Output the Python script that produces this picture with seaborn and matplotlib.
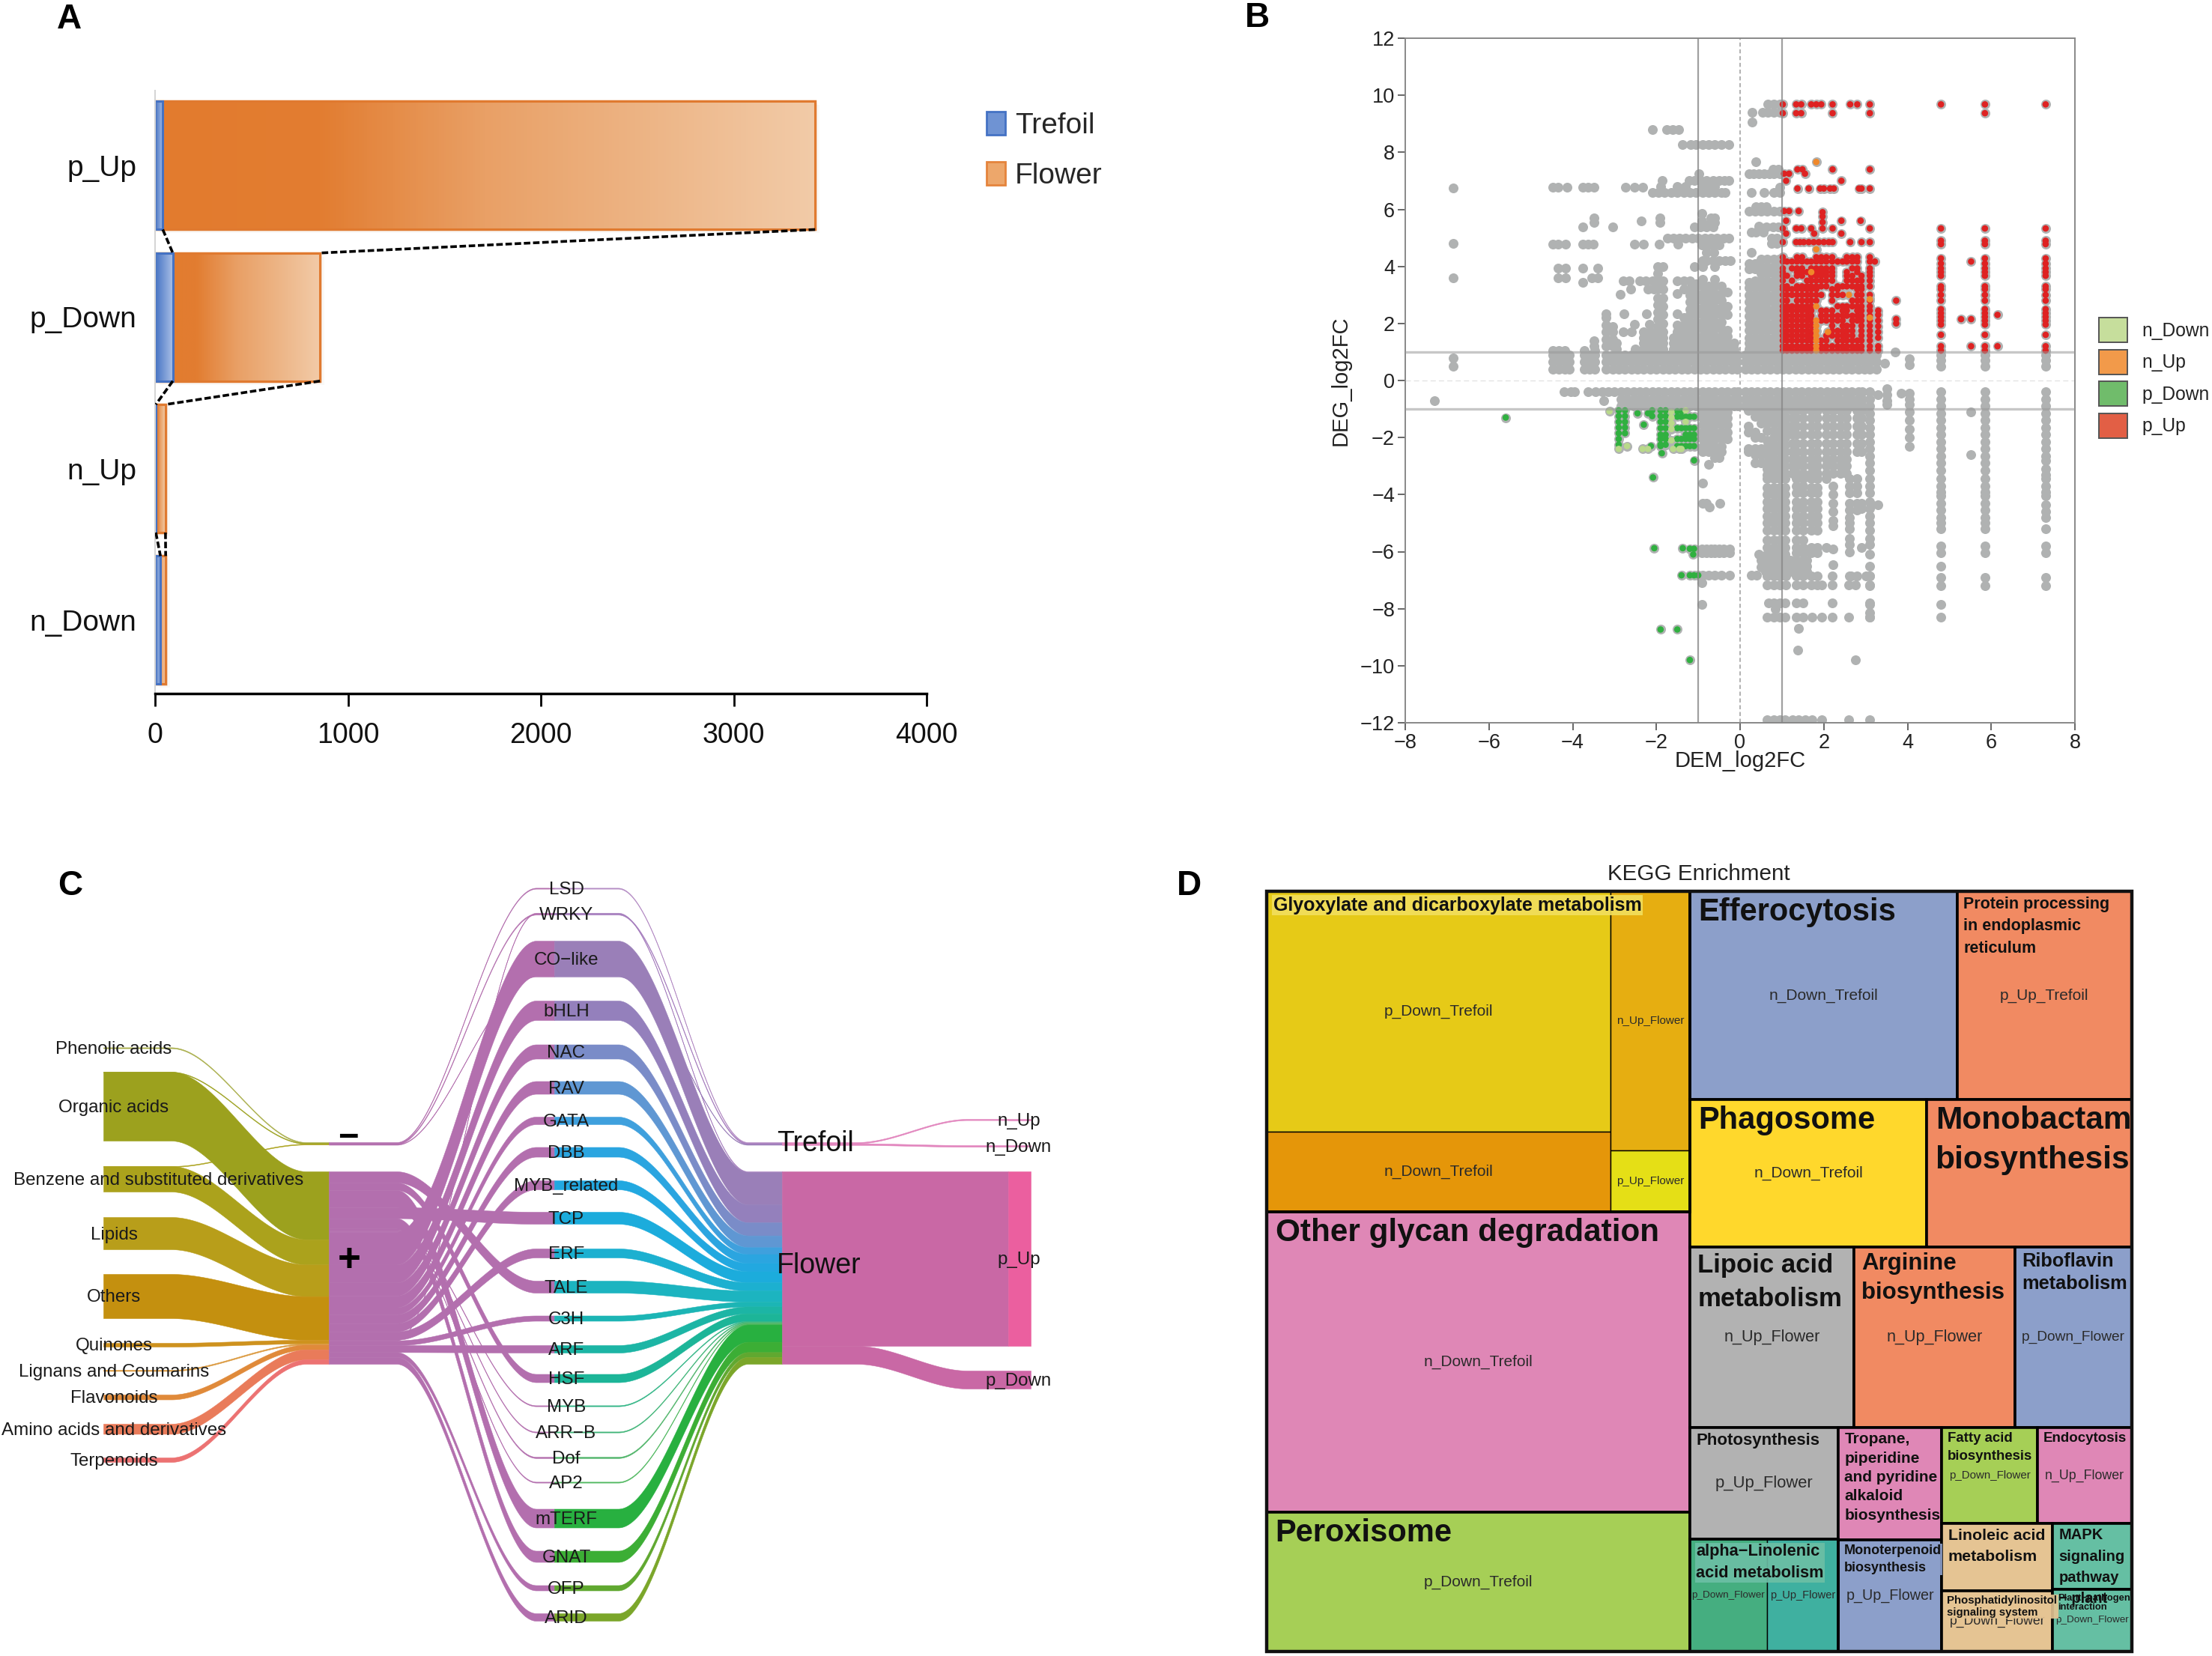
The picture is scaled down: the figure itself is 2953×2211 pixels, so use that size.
import numpy as np
import pandas as pd
import matplotlib
matplotlib.use("Agg")
import matplotlib.pyplot as plt
from matplotlib.colors import LinearSegmentedColormap
from matplotlib.patches import Patch, Rectangle
import seaborn as sns

sns.set_theme(style="ticks")
SANS = ["Liberation Sans", "DejaVu Sans"]
plt.rcParams["font.family"] = SANS
W, H = 2953, 2211

# ---------- Panel A ----------
a_categories = ["p_Up", "p_Down", "n_Up", "n_Down"]
a_trefoil = [40, 92, 4, 28]
a_flower = [3382, 763, 50, 27]

# ---------- Panel B : gray background points, as (x values, y values) tables ----------
B_UP = [.4, .65, .9]
B_DN = [-.4, -.65, -.9]
gray_tables = [
    ([-4.47, -4.33, -4.18, -4.08, -3.72, -3.6, -3.48, -3.2, -3.05, -2.9, -2.75, -2.6, -2.45, -2.3, -2.15, -2.0,
      -1.85, -1.7, -1.55, -1.4, -1.25, -1.1, -.95, -.8, -.65, -.5, -.35, -.2, -.07, .12, .27, .42, .57, .72, .87,
      1.02, 1.17, 1.32, 1.47, 1.62, 1.77, 1.92, 2.07, 2.22, 2.37, 2.52, 2.67, 2.82, 2.97, 3.1, 3.25], B_UP),
    ([-4.47, -4.33, -4.18, -3.72, -3.48], [1.05]),
    ([-7.3], [-.7]), ([-6.85], [6.75, 4.8, 3.6, .8, .5]),
    ([3.45], [.6]), ([3.7], [1.0]), ([4.05], [.75, .55]),
    ([4.8, 5.85, 7.3], [.5, .7, .9]),
    # upper left rows
    ([-4.47, -4.35, -4.14, -3.75, -3.63, -3.49, -2.74, -2.53, -2.32], [6.77]),
    ([-4.47, -4.35, -4.17, -3.75, -3.63, -3.5, -2.53, -2.3, -1.94, -1.49], [4.78]),
    ([-4.35, -4.17, -3.75, -3.4], [3.95]), ([-4.35, -4.17, -3.55, -3.4], [3.6]), ([-3.75], [3.45]),
    ([-3.49], [5.7, 5.55]), ([-3.75, -3.05], [5.37]), ([-2.36], [5.6]), ([-1.92], [5.7, 5.55]),
    ([-2.09, -1.76, -1.61, -1.46], [8.8]),
    ([-1.37, -1.19, -1.05, -.9, -.75, -.6, -.45, -.27], [8.28]),
    ([-.98], [7.25]),
    ([-1.86, -1.22, -1.1, -.95, -.8, -.65, -.5, -.38, -.27], [7.0]),
    ([-1.9, -1.5, -1.3, -.9, -.75, -.6], [6.8]),
    ([-2.1, -1.95, -1.8, -1.65, -1.5, -1.35, -1.2, -1.05, -.9, -.75, -.6, -.45, -.35], [6.6]),
    ([-.92], [5.85, 5.6]), ([-.7, -.6], [5.7, 5.55]),
    ([-1.1, -.95, -.8, -.65], [5.37]),
    ([-1.73, -1.6, -1.45, -1.3, -1.15, -1.0, -.85, -.7, -.55, -.4, -.27], [5.0]),
    ([-.92, -.75, -.6, -.5], [4.75]), ([-.8, -.63], [4.5]),
    ([-.9, -.8, -.65, -.5, -.35, -.24], [4.2]), ([-1.1, -.9, -.6], [4.0]),
    # lower left of the upper mass
    ([-3.49], [1.2, 1.4]),
    ([-3.2], [1.2, 1.45, 1.7, 1.95, 2.2, 2.35]), ([-3.05], [1.2, 1.45, 1.7, 1.9]), ([-2.95], [1.1, 1.3]),
    ([-2.8, -2.6], [1.7]), ([-2.77, -2.23], [2.33]), ([-2.53, -2.17], [1.96]), ([-2.5], [1.1]),
    ([-2.3, -2.15, -2.0], [1.1, 1.3, 1.5, 1.7]),
    ([-1.97], [1.9, 2.15, 2.4, 2.65, 2.9, 3.2, 3.5, 3.75, 4.0]),
    ([-1.85], [1.1, 1.3, 1.5, 1.7, 2.0, 2.3, 2.6, 2.9, 3.2, 3.5, 4.0]),
    ([-2.8, -2.65, -2.4, -2.25, -2.1], [3.5]), ([-2.62, -2.2, -2.05], [3.2]), ([-2.86], [3.03]),
    ([-1.6], [1.1, 1.3, 1.5]),
    ([-1.5], [1.1, 1.3, 1.5, 1.7, 1.95, 2.35, 3.05, 3.5]),
    ([-1.35], [1.1, 1.3, 1.5, 1.7, 1.95, 2.2, 3.2, 3.5]),
    ([-1.2], [1.1, 1.3, 1.55, 1.8, 2.05, 2.3, 2.5, 2.75, 3.0, 3.2, 3.5]),
    ([-1.05], [1.1, 1.3, 1.55, 1.8, 2.05, 2.3, 2.55, 2.8, 3.05, 3.3, 3.4]),
    ([-.9, -.75, -.6, -.45], [1.1, 1.3, 1.55, 1.8, 2.05, 2.3, 2.55, 2.8, 3.05, 3.3]),
    ([-.9, -.6], [3.55]),
    ([-.3], [1.1, 1.3, 1.55, 1.75, 2.3, 2.6, 3.1]), ([-.15], [1.1, 1.3]),
    # upper right of zero, gray
    ([.66, .8, .94], [9.68]), ([.29, .54, .66, .8, .94], [9.4]), ([.28], [9.05]), ([.38], [7.66]),
    ([.21, .33, .45, .57, .69, .81, .95], [7.25]), ([.78, .92], [7.4]),
    ([.27, .57, .8, .95], [6.6]), ([.95], [6.77]),
    ([.21, .35, .5, .65, .8, .95], [5.94]), ([.38, .5, .62], [6.1]),
    ([.63, .78, .92], [5.37]), ([.27, .37, .55], [5.2]), ([.44], [5.4]),
    ([.75, .88], [5.0, 4.8]), ([.27], [4.5]),
    ([.22], [1.1, 1.3, 1.5, 1.75, 2.0, 2.25, 2.5, 2.75, 3.0, 3.25, 3.45, 3.9, 4.1]),
    ([.35], [1.1, 1.3, 1.5, 1.75, 2.0, 2.25, 2.5, 2.75, 3.0, 3.25, 3.5, 3.9, 4.1]),
    ([.5, .65, .8, .93], [1.1, 1.3, 1.5, 1.75, 2.0, 2.25, 2.5, 2.75, 3.0, 3.25, 3.5, 3.75, 4.0, 4.25]),
    # lower band
    ([-3.45, -3.3, -3.15, -3.0, -4.2, -4.05, -3.95, -3.63], [-.4]),
    ([-3.25], [-.7]),
    ([-2.85, -2.7, -2.55, -2.4, -2.25, -2.1, -1.95, -1.8, -1.65, -1.5, -1.35, -1.2, -1.05, -.9, -.75, -.6, -.45, -.3, -.15,
      -.05, .12, .27, .42, .57, .72, .87, 1.02, 1.17, 1.32, 1.47, 1.62, 1.77, 1.92, 2.07, 2.22, 2.37, 2.52, 2.67, 2.82,
      2.92], B_DN),
    ([3.3], [-.5]), ([3.5], [-.3, -.5, -.7, -.85]), ([3.85], [-.45]),
    ([4.05], [-.45, -.65, -.85, -1.1, -1.4, -1.7, -2.0, -2.3]),
    ([5.52], [-1.1, -2.6]),
    # lower mass, left of zero
    ([-.9, -.75, -.6, -.45], [-1.1, -1.3, -1.55, -1.8, -2.05, -2.3, -2.5]),
    ([-.3], [-1.1, -1.3, -1.55, -1.8, -2.05]),
    ([-.6, -.5], [-2.7]), ([-.75], [-2.95]), ([-.9], [-3.6, -4.3]), ([-.8], [-4.3]), ([-.73], [-4.45]), ([-.48], [-4.3]),
    ([-.92, -.8, -.7, -.6, -.5, -.4, -.25], [-5.9, -6.05]),
    ([-.9, -.75, -.6, -.45, -.25, .27, .4], [-6.83]), ([-.92], [-7.1, -7.85]),
    # lower mass, right of zero
    ([.2], [-1.05, -1.6, -1.8, -2.4, -2.5]),
    ([.35], [-1.05, -1.25, -1.8, -2.0, -2.4, -2.6, -2.9]),
    ([.5], [-1.05, -1.25, -1.5, -2.0, -2.4, -2.6, -2.9]),
    ([.65], [-1.05, -1.25, -1.5, -1.75, -2.1, -2.35, -2.6, -2.85, -3.1, -3.3, -3.45]),
    ([.65, .8, .95, 1.08], [-3.75, -4.0, -4.25, -4.5, -4.75, -5.0, -5.25, -5.6, -5.85, -6.1]),
    ([.8, .95, 1.08], [-1.05, -1.25, -1.5, -1.75, -2.0, -2.25, -2.5, -2.75, -3.0, -3.25, -3.45]),
    ([.45], [-6.1]), ([.5], [-6.3, -6.55]),
    ([.6, .75, .9, 1.05, 1.2, 1.35, 1.5, 1.6], [-6.3, -6.5, -6.7]),
    ([.65, .8, .95, 1.1, 1.35, 1.5, 1.7, 1.85, 2.2, 2.65, 3.0, 3.1], [-6.85]),
    ([.65, .8, .95, 1.1, 1.35, 1.5, 1.7, 1.85, 1.95, 2.2, 2.6, 2.75, 3.1], [-7.18]),
    ([.68, .8, .95, 1.08, 1.35, 1.5, 2.2, 3.1], [-7.8]), ([.85], [-8.0]),
    ([.65, .8, .95, 1.08, 1.35, 1.5, 1.72, 1.95, 2.2, 2.6, 3.1], [-8.3]),
    ([1.4], [-8.7]), ([1.38], [-9.45]), ([2.75], [-9.8]),
    ([.65, .8, .95, 1.08, 1.25, 1.4, 1.55, 1.72, 1.95, 2.6, 3.1], [-11.9]),
    ([1.35, 1.5], [-1.05, -1.3, -1.6, -1.9, -2.2, -2.5, -2.75, -3.0, -3.25, -3.45, -3.7, -3.95, -4.25, -4.5, -4.75, -5.0,
                   -5.25, -5.6, -5.85, -6.05]),
    ([1.25], [-1.05, -1.3, -1.6, -1.9, -2.2, -2.5, -2.75, -3.0, -3.25]),
    ([1.7, 1.85], [-1.05, -1.3, -1.6, -1.9, -2.2, -2.5, -2.75, -3.0, -3.25, -3.45, -3.75, -3.95, -4.25, -4.5, -4.75, -5.0,
                   -5.25, -5.85, -6.05]),
    ([2.05], [-1.05, -1.3, -1.6, -1.9, -2.2, -2.5, -2.75, -3.0, -3.25, -3.45, -5.85]),
    ([2.22], [-1.05, -1.3, -1.6, -1.9, -2.2, -2.5, -2.75, -3.0, -3.25, -3.7, -4.0, -4.3, -4.6, -4.9, -5.1, -5.9, -6.45]),
    ([2.4, 2.55], [-1.05, -1.3, -1.6, -1.9, -2.2, -2.5, -2.75, -3.0, -3.25]),
    ([2.62], [-3.45, -3.7, -3.95, -4.3, -4.55, -4.8, -5.0, -5.2, -5.55, -5.75, -6.0, -6.85]),
    ([2.8], [-1.05, -1.3, -1.6, -1.9, -2.2, -2.5, -3.45, -3.7, -3.95, -4.3, -4.55, -6.85]),
    ([2.9], [-1.05, -1.3, -1.6, -1.9, -2.2, -2.5, -4.3, -4.5, -5.85]),
    ([3.1], [-.4, -.65, -.9, -1.15, -1.4, -1.65, -1.9, -2.15, -2.4, -2.65, -2.9, -3.15, -3.45, -3.7, -3.95, -4.25, -4.5,
             -4.75, -5.0, -5.25, -5.55, -5.75, -6.1, -6.5, -6.85, -7.2, -7.85, -8.15, -8.3]),
    ([3.3], [-4.35]),
    ([4.8, 5.85], [-.4, -.65, -.9, -1.15, -1.4, -1.65, -1.9, -2.15, -2.4, -2.65, -2.9, -3.15, -3.45, -3.7, -3.9, -4.05,
                   -4.3, -4.55, -4.8, -5.0, -5.2, -5.8, -6.05, -6.9, -7.2]),
    ([4.8], [-6.5, -7.85, -8.3]),
    ([7.3], [-.4, -.65, -.9, -1.15, -1.4, -1.65, -1.9, -2.15, -2.4, -2.65, -2.8, -3.1, -3.3, -3.45, -3.7, -3.9, -4.05,
             -4.35, -4.6, -4.8, -5.2, -5.8, -6.05, -6.9, -7.2]),
]

# ---------- Panel B : coloured points ----------
S_ROWS = [1.05, 1.2, 1.4, 1.57, 1.74, 1.92, 2.1, 2.27]
red_tables = [
    ([1.02, 1.34, 1.46, 1.7, 1.82, 1.94, 2.21, 2.63, 2.8, 3.1, 4.8, 5.85, 7.3], [9.68]),
    ([1.02, 1.34, 1.46, 2.21, 3.1, 5.85], [9.37]),
    ([1.37, 1.49, 2.21, 3.1], [7.4]), ([1.05, 1.17, 1.55], [7.25]), ([1.1, 2.42], [7.0]),
    ([1.37, 1.64, 1.91, 2.0, 2.15, 2.24, 2.84, 2.9, 3.1], [6.73]),
    ([1.05, 1.17, 1.4], [5.94]), ([1.97], [5.9, 5.75, 5.55]), ([1.1, 2.42, 2.88], [5.6]),
    ([1.02, 1.34, 1.46, 1.7, 1.97, 2.21, 3.1], [5.33]), ([1.1, 1.77, 2.42], [5.15]),
    ([1.02, 1.34, 1.43, 1.52, 1.64, 1.76, 1.88, 2.0, 2.12, 2.21, 2.63, 2.9, 3.1], [4.85]),
    ([1.02], S_ROWS + [2.45, 2.6, 2.8, 3.0, 3.2, 3.3, 3.5, 3.67, 3.8, 3.93, 4.17, 4.32]),
    ([1.12], S_ROWS + [2.45, 2.6, 2.8, 3.0, 3.2, 3.3, 3.67, 4.17]),
    ([1.24], S_ROWS + [2.45, 2.6, 3.0, 3.2, 3.5, 3.93, 4.17]),
    ([1.36, 1.48], S_ROWS + [2.45, 2.6, 2.8, 3.0, 3.2, 3.3, 3.67, 3.8, 3.93, 4.17, 4.32]),
    ([1.6], S_ROWS + [2.45, 2.6, 2.8, 3.0, 3.2, 3.3, 3.5, 3.8, 4.17]),
    ([1.7], S_ROWS + [2.45, 2.6, 2.8, 3.0, 3.2, 3.3, 3.5, 3.67, 3.8, 3.93, 4.17]),
    ([1.82], [2.8, 3.0, 3.2, 3.3, 3.5, 3.67, 3.8, 3.93, 4.17, 4.32]),
    ([1.94], [1.05, 1.2, 1.4, 2.1, 2.27, 2.45, 3.0, 3.3, 3.5, 3.67, 3.8, 3.93, 4.17, 4.32]),
    ([2.06], [1.05, 1.2, 1.4, 1.57, 2.1, 2.27, 2.45, 3.3, 3.5, 3.67, 3.8, 3.93, 4.17, 4.32]),
    ([2.2], [1.05, 1.2, 1.57, 1.74, 1.92, 2.1, 2.27, 2.45, 2.8, 3.0, 3.2, 3.5, 3.67, 3.8, 3.93, 4.17, 4.32]),
    ([2.33], [1.05, 1.2, 1.4, 1.57, 1.74, 2.1, 2.27, 2.6, 3.0, 3.2, 3.3, 4.17]),
    ([2.45], S_ROWS + [2.45, 2.6, 3.0, 3.3, 4.17]),
    ([2.55], [1.05, 1.2, 1.4, 1.57, 1.74, 1.92, 2.27, 2.45, 2.6, 3.3, 3.5, 3.67, 3.8, 4.17, 4.32]),
    ([2.68], S_ROWS + [2.6, 2.8, 3.3, 3.5, 3.67, 3.93, 4.17, 4.32]),
    ([2.8], [1.05, 1.2, 1.4, 2.1, 2.27, 2.45, 2.6, 2.8, 3.0, 3.2, 3.3, 3.5, 3.8, 3.93, 4.17, 4.32]),
    ([2.9], S_ROWS + [2.45, 2.6, 2.8, 3.0, 3.2, 3.3, 3.5, 3.67]),
    ([3.1], S_ROWS + [2.45, 2.6, 2.8, 3.0, 3.3, 3.5, 3.67, 3.8, 3.93, 4.17, 4.32]),
    ([3.22], [4.17]), ([3.3], [1.05, 1.2, 1.5, 1.7, 1.9, 2.1, 2.3, 2.45]),
    ([3.73], [2.8, 2.15, 2.0]),
    ([4.8, 5.85, 7.3], [1.05, 1.2, 1.6, 1.96, 2.1, 2.23, 2.36, 2.5, 2.8, 3.0, 3.2, 3.3, 3.67, 3.8, 3.93, 4.1, 4.28, 4.78,
                        4.9, 5.33]),
    ([5.28, 5.52], [2.15]), ([5.52], [4.17, 1.2]), ([6.15], [2.3, 1.2]),
]
orange_tables = [
    ([1.82], [7.66, 4.6, 1.05, 1.2, 1.4, 1.57, 1.74, 1.92, 2.1, 2.6]),
    ([3.1], [2.2, 2.85]), ([2.6], [3.0]), ([2.1], [1.7]), ([1.7], [3.8]),
]
green_tables = [
    ([-5.6], [-1.3]), ([-2.08], [-3.4]), ([-1.87], [-2.55]), ([-2.13, -1.9], [-2.3]), ([-1.1], [-2.8]),
    ([-2.05, -1.37], [-5.88]), ([-1.2, -1.1], [-5.9]), ([-1.12], [-6.1]), ([-1.4, -1.2, -1.1, -1.0], [-6.83]),
    ([-1.9, -1.5], [-8.73]), ([-1.2], [-9.8]),
    ([-2.9], [-1.05, -1.25, -1.45, -1.65, -1.85, -2.05, -2.25]), ([-2.75], [-1.05, -1.25, -1.45, -1.65, -1.85]),
    ([-2.45, -2.2], [-1.15]), ([-2.3], [-1.55]),
    ([-2.1], [-1.05, -1.25]),
    ([-1.9, -1.78], [-1.05, -1.25, -1.45, -1.67, -1.9, -2.05, -2.25]),
    ([-1.5, -1.4], [-1.08, -1.27, -1.67, -2.05, -2.3]),
    ([-1.3, -1.2, -1.1], [-1.27, -1.67, -1.9, -2.05, -2.3]),
]
light_tables = [
    ([-3.12], [-1.08]), ([-2.9], [-2.4]), ([-2.7], [-2.3]), ([-2.33, -2.2], [-2.4]),
    ([-1.64], [-1.1, -1.3, -1.5, -1.7, -2.1]), ([-1.6, -1.45, -1.4], [-2.4]), ([-1.3], [-1.05, -1.45]),
]
b_legend = ["n_Down", "n_Up", "p_Down", "p_Up"]
b_colors = ["#C6DE9C", "#F29A4A", "#70BC6B", "#E25F45"]

# ---------- Panel C ----------
metabolites = ["Phenolic acids", "Organic acids", "Benzene and substituted derivatives", "Lipids", "Others", "Quinones",
               "Lignans and Coumarins", "Flavonoids", "Amino acids and derivatives", "Terpenoids"]
metab_plus = [0, 92, 34, 43, 59, 5, 1.5, 6.5, 13.5, 6]
metab_minus = [1.2, 1, 1, 0, 0, 0, 0, 0, 0, 0]
metab_top = [1398.4, 1431, 1557, 1625, 1701, 1793, 1829, 1862, 1901, 1946]
metab_label_x = [152, 152, 212, 152, 152, 152, 152, 152, 152, 152]
metab_colors = ["#A9AE4A", "#9CA11E", "#ABA21C", "#B89E1A", "#C4900F", "#CE921E", "#DB9A40", "#E08A3A", "#E97B5A", "#EC7272"]

factors = ["LSD", "WRKY", "CO−like", "bHLH", "NAC", "RAV", "GATA", "DBB", "MYB_related", "TCP", "ERF", "TALE", "C3H", "ARF",
           "HSF", "MYB", "ARR−B", "Dof", "AP2", "mTERF", "GNAT", "OFP", "ARID"]
factor_plus = [0, 1.0, 47, 26, 19, 17, 10, 13, 12, 16, 12, 16, 7, 10, 11, 1.2, 1.2, 1.6, 1.2, 25, 15, 7, 10]
factor_minus = [1.2, 1.5, 0.8, 0, 0, 0, 0, 0, 0, 0, 0, 0, 0, 0, 0, 0, 0, 0, 0, 0, 0, 0, 0]
factor_center = [1186, 1220, 1280, 1349, 1404, 1452, 1496, 1538, 1582, 1626, 1673, 1718, 1760, 1801, 1840, 1877, 1912, 1946,
                 1979, 2027, 2078, 2120, 2159]
factor_colors = ["#B48CC4", "#A67EBE", "#9A7FB8", "#9480BC", "#7A8CC8", "#5F97D3", "#3FA0DD", "#2BA5E0", "#22A8E0", "#1CACDC",
                 "#1CB0D0", "#1CB4C0", "#1CB5B5", "#1CB5A5", "#1CB598", "#30B585", "#40B578", "#50B56A", "#50B860", "#28B040",
                 "#3CAE35", "#60A830", "#7BA62A"]
plus_order = ["TALE", "HSF", "mTERF", "TCP", "GNAT", "MYB", "ARR−B", "Dof", "AP2", "CO−like", "bHLH", "NAC", "RAV", "GATA",
              "DBB", "MYB_related", "ERF", "WRKY", "C3H", "ARF", "OFP", "ARID"]
outcomes = ["n_Up", "n_Down", "p_Up", "p_Down"]
outcome_values = [1.6, 2.2, 233, 24]
outcome_top = [1494, 1529, 1564, 1830]
outcome_label_y = [1495, 1530, 1680, 1842]

# ---------- Panel D ----------
kegg_sizes = [147.3, 49.1, 36.6, 8.7, 226.6, 105.1, 99.2, 64.8, 62.3, 54.0, 52.8, 51.8, 37.6, 29.5, 15.5, 14.3, 20.7, 20.6,
              16.4, 16.1, 13.3, 12.0, 9.3, 8.8]
kegg_terms = ["Glyoxylate and dicarboxylate metabolism", "", "", "", "Other glycan degradation", "Peroxisome", "Efferocytosis",
              "Protein processing\nin endoplasmic\nreticulum", "Phagosome", "Monobactam\nbiosynthesis",
              "Lipoic acid\nmetabolism", "Arginine\nbiosynthesis", "Riboflavin\nmetabolism", "Photosynthesis",
              "alpha−Linolenic\nacid metabolism", "", "Tropane,\npiperidine\nand pyridine\nalkaloid\nbiosynthesis",
              "Monoterpenoid\nbiosynthesis", "Fatty acid\nbiosynthesis", "Endocytosis", "Linoleic acid\nmetabolism",
              "Phosphatidylinositol\nsignaling system", "MAPK\nsignaling\npathway\n− plant", "Plant−pathogen\ninteraction"]
kegg_groups = ["p_Down_Trefoil", "n_Down_Trefoil", "n_Up_Flower", "p_Up_Flower", "n_Down_Trefoil", "p_Down_Trefoil",
               "n_Down_Trefoil", "p_Up_Trefoil", "n_Down_Trefoil", "", "n_Up_Flower", "n_Up_Flower", "p_Down_Flower",
               "p_Up_Flower", "p_Down_Flower", "p_Up_Flower", "", "p_Up_Flower", "p_Down_Flower", "n_Up_Flower", "",
               "p_Down_Flower", "", "p_Down_Flower"]
kegg_colors = ["#E6CA17", "#E59609", "#E6AE11", "#E5DF16", "#DF87B6", "#A6CF56", "#8C9FCA", "#F18A62", "#FFD82C", "#F18A62",
               "#B2B2B2", "#F18A62", "#8C9FCA", "#B2B2B2", "#45AE80", "#3FB0A0", "#DF87B6", "#8C9FCA", "#A6CF56", "#DF87B6",
               "#E5C493", "#E5C493", "#65BFA3", "#65BFA3"]
kegg_title_sizes = [18, 0, 0, 0, 30.4, 30, 30, 15.5, 30, 30.5, 25, 22.5, 18.3, 16, 15.7, 0, 15, 13, 13.4, 13.5, 15.4, 10.8, 14.5, 9.3]
kegg_title_spacing = [1.3, 1, 1, 1, 1.3, 1.3, 1.3, 1.54, 1.3, 1.4, 1.48, 1.37, 1.3, 1.3, 1.5, 1, 1.42, 1.45, 1.5, 1.3, 1.6, 1.15,
                      1.62, 1.0]
kegg_group_sizes = [15, 15, 11, 11, 15, 15, 15, 15, 15, 0, 15.6, 15.6, 13.8, 15.8, 9.7, 10.5, 0, 14.2, 10.8, 12.8, 0, 12.7, 0, 9.7]
kegg_tree = ("x", [("y", [("x", [("y", [0, 1]), ("y", [2, 3])]), 4, 5]),
                   ("y", [("x", [6, 7]), ("x", [8, 9]), ("x", [10, 11, 12]),
                          ("x", [("y", [13, ("x", [14, 15])]), ("y", [16, 17]),
                                 ("y", [("x", [18, 19]), ("x", [("y", [20, 21]), ("y", [22, 23])])])])])])

fig = plt.figure(figsize=(W / 100, H / 100), dpi=100, facecolor="white")


def px_axes(x0, y0, x1, y1):
    return fig.add_axes([x0 / W, 1 - y1 / H, (x1 - x0) / W, (y1 - y0) / H])


for letter, lx, ly in [("A", 92, 26), ("B", 1678, 24), ("C", 94, 1183), ("D", 1587, 1183)]:
    fig.text(lx / W, 1 - ly / H, letter, fontsize=33, fontweight="bold", ha="center", va="center", color="black")

# ========== A ==========
axA = px_axes(207, 121, 1237, 926)
df_a = pd.DataFrame({"cat": a_categories, "trefoil": a_trefoil, "flower": a_flower})
df_a["total"] = df_a["trefoil"] + df_a["flower"]
bar_w = 0.845
sns.barplot(data=df_a, y="cat", x="total", color="#E5843C", width=bar_w, saturation=1, ax=axA, orient="h",
            edgecolor="#E5843C", linewidth=2.5)
n_total = len(axA.patches)
sns.barplot(data=df_a, y="cat", x="trefoil", color="#4472C4", width=bar_w, saturation=1, ax=axA, orient="h",
            edgecolor="#4472C4", linewidth=2)
cm_o = LinearSegmentedColormap.from_list("o", ["#E27B2E", "#E27D31", "#E9A066", "#EDB586", "#F2CBA8"])
cm_b = LinearSegmentedColormap.from_list("b", ["#4472C4", "#A9BFE6"])
grad = np.linspace(0, 1, 256).reshape(1, -1)
for k, p in enumerate(list(axA.patches)):
    cm = cm_o if k < n_total else cm_b
    zb = p.get_zorder() + k * 0.01
    im = axA.imshow(grad, cmap=cm, aspect="auto", zorder=zb + 0.1,
                    extent=(p.get_x(), p.get_x() + p.get_width(), p.get_y() + p.get_height(), p.get_y()))
    im.set_clip_path(p)
    axA.add_patch(Rectangle((p.get_x(), p.get_y()), p.get_width(), p.get_height(), fill=False,
                            edgecolor="#E07A30" if k < n_total else "#4472C4", lw=2.2, zorder=zb + 0.2))
    if k < n_total:
        for off, al in [(10, .05), (22, .035)]:
            axA.add_patch(Rectangle((p.get_x() + off, p.get_y() + off / 900), p.get_width(), p.get_height(),
                                    facecolor="#8A5A30", edgecolor="none", alpha=al, zorder=p.get_zorder() - 0.2))
for i in range(len(df_a) - 1):
    for col in ["trefoil", "total"]:
        axA.plot([df_a[col][i], df_a[col][i + 1]], [i + bar_w / 2, i + 1 - bar_w / 2], color="black", lw=2.6,
                 ls=(0, (2.4, 1.0)), zorder=5)
axA.set_xlim(0, 4000)
axA.set_ylim(3.485, -0.494)
axA.set_xticks([0, 1000, 2000, 3000, 4000])
axA.set_xlabel("")
axA.set_ylabel("")
for s in ["top", "right"]:
    axA.spines[s].set_visible(False)
axA.spines["left"].set_color("#D5D5D5")
axA.spines["left"].set_linewidth(1.5)
axA.spines["bottom"].set_color("black")
axA.spines["bottom"].set_linewidth(2.5)
axA.tick_params(axis="x", length=12, width=2, color="black", pad=15, labelsize=27)
axA.tick_params(axis="y", length=0, pad=18, labelsize=28)
for t in axA.get_xticklabels() + axA.get_yticklabels():
    t.set_color("#111111")
fig.legend(handles=[Patch(facecolor="#6F93D3", edgecolor="#4472C4", lw=2, label="Trefoil"),
                    Patch(facecolor="#EDA76B", edgecolor="#E5843C", lw=2, label="Flower")],
           loc="upper left", bbox_to_anchor=(1317 / W, 1 - 149 / H), frameon=False, prop={"size": 28},
           borderpad=0, borderaxespad=0, handlelength=0.63, handleheight=0.85, handletextpad=0.35, labelspacing=0.78)


# ========== B ==========
def expand(tables):
    xs, ys = [], []
    for tx, ty in tables:
        for a in tx:
            for b in ty:
                xs.append(a)
                ys.append(b)
    return xs, ys


axB = px_axes(1876, 51, 2770, 965)
pts = []
for name, tabs in [("p_Up", red_tables), ("n_Up", orange_tables), ("p_Down", green_tables), ("n_Down", light_tables)]:
    px_, py_ = expand(tabs)
    pts.append(pd.DataFrame({"x": px_, "y": py_, "cls": name}))
df_col = pd.concat(pts, ignore_index=True)
gx, gy = expand(gray_tables)
df_gray = pd.concat([pd.DataFrame({"x": gx, "y": gy}), df_col[["x", "y"]]], ignore_index=True)
sns.scatterplot(data=df_gray, x="x", y="y", color="#B0B2B2", s=88, linewidth=0, ax=axB, zorder=2, clip_on=True)
sns.scatterplot(data=df_col, x="x", y="y", hue="cls", s=38, linewidth=0, ax=axB, zorder=3, legend=False,
                palette={"p_Up": "#DE2222", "n_Up": "#F0882A", "p_Down": "#30B040", "n_Down": "#B9D98A"})
for v in [-1, 1]:
    axB.axhline(v, color="#999999", lw=2.4, alpha=0.55, zorder=4)
    axB.axvline(v, color="#888888", lw=1.6, alpha=0.8, zorder=4)
axB.axvline(0, color="#AAAAAA", lw=1.3, ls=(0, (3, 2)), zorder=1)
axB.axhline(0, color="#E4E4E4", lw=1.0, ls=(0, (5, 3)), zorder=1)
axB.set_xlim(-8, 8)
axB.set_ylim(-12, 12)
axB.set_xticks(range(-8, 9, 2))
axB.set_yticks(range(-12, 13, 2))
axB.set_xticklabels([str(v).replace("-", "−") for v in range(-8, 9, 2)])
axB.set_yticklabels([str(v).replace("-", "−") for v in range(-12, 13, 2)])
axB.set_xlabel("DEM_log2FC", fontsize=21, color="#222222", labelpad=-2)
axB.set_ylabel("DEG_log2FC", fontsize=21, color="#222222", labelpad=9)
axB.tick_params(length=7, width=1.4, color="#666666", labelsize=19.5, labelcolor="#222222", pad=3)
for s in axB.spines.values():
    s.set_color("#888888")
    s.set_linewidth(1.4)
fig.legend(handles=[Patch(facecolor=c, edgecolor="#555555", lw=1.4, label=n) for n, c in zip(b_legend, b_colors)],
           loc="upper left", bbox_to_anchor=(2802 / W, 1 - 424 / H), frameon=False, prop={"size": 17.7},
           borderpad=0, borderaxespad=0, handlelength=1.55, handleheight=1.7, handletextpad=0.8, labelspacing=0.38,
           labelcolor="#222222")

# ========== C ==========
axC = px_axes(0, 1150, 1420, 2211)
axC.set_xlim(0, 1420)
axC.set_ylim(2211, 1150)
axC.axis("off")


def ribbon(x0, x1, y0a, y0b, y1a, y1b, color, z=2, span=(0.3, 0.9)):
    xs = np.linspace(x0, x1, 200)
    u = np.clip(((xs - x0) / (x1 - x0) - span[0]) / (span[1] - span[0]), 0, 1)
    s = 3 * u ** 2 - 2 * u ** 3
    axC.fill_between(xs, y0a + (y1a - y0a) * s, y0b + (y1b - y0b) * s, color=color, lw=0.4, zorder=z)


X1, X2, X3, X4, X5, X6 = 138, 439, 740, 1044, 1346, 1376
PLUS_TOP, PLUS_H = 1564, 257
MINUS_TOP = 1525
LAB_DY = 2

# metabolites -> signs
scale = PLUS_H / sum(metab_plus)
cur_p, cur_m = PLUS_TOP, MINUS_TOP
for i, name in enumerate(metabolites):
    top = metab_top[i]
    if metab_minus[i]:
        ribbon(X1, X2, top, top + metab_minus[i], cur_m, cur_m + metab_minus[i], metab_colors[i], z=2)
        cur_m += metab_minus[i]
    if metab_plus[i]:
        ribbon(X1, X2, top, top + metab_plus[i], cur_p, cur_p + metab_plus[i] * scale, metab_colors[i], z=3)
        cur_p += metab_plus[i] * scale
    ymid = top + (metab_plus[i] + metab_minus[i] * (i == 0)) / 2
    axC.text(metab_label_x[i], ymid + LAB_DY, name, ha="center", va="center", fontsize=17.4, color="#1A1A1A", zorder=8)

# signs -> factors
PURPLE = "#B36FAE"
SP2 = (0.3, 0.92)
scale2 = PLUS_H / sum(factor_plus)
tf_top = {}
for i, f in enumerate(factors):
    tf_top[f] = factor_center[i] - (factor_plus[i] + factor_minus[i]) / 2
cur_p = PLUS_TOP
for f in plus_order:
    i = factors.index(f)
    h = factor_plus[i]
    if h:
        ribbon(X2, X3, cur_p, cur_p + h * scale2, tf_top[f], tf_top[f] + h, PURPLE, z=4, span=SP2)
        cur_p += h * scale2
cur_m = MINUS_TOP
for i, f in enumerate(factors):
    h = factor_minus[i]
    if h:
        ribbon(X2, X3, cur_m, cur_m + h, tf_top[f] + factor_plus[i], tf_top[f] + factor_plus[i] + h, PURPLE, z=4, span=SP2)
        cur_m += h

# factors -> tissues
FLOWER_TOP = 1564
TREFOIL_TOP = 1525
SP3 = (0.28, 0.85)
cur_f, cur_t = FLOWER_TOP, TREFOIL_TOP
for i, f in enumerate(factors):
    h = factor_plus[i]
    if h:
        ribbon(X3, X4, tf_top[f], tf_top[f] + h, cur_f, cur_f + h * scale2, factor_colors[i], z=5, span=SP3)
        cur_f += h * scale2
    hm = factor_minus[i]
    if hm:
        ribbon(X3, X4, tf_top[f] + h, tf_top[f] + h + hm, cur_t, cur_t + hm, factor_colors[i], z=5, span=SP3)
        cur_t += hm
    axC.text(756, factor_center[i] + LAB_DY, f, ha="center", va="center", fontsize=17.4, color="#1A1A1A", zorder=8)

# tissues -> outcomes
PINK, HOT = "#C968A5", "#EB5F9F"
SP4 = (0.33, 0.82)
cur_t, cur_f = TREFOIL_TOP, FLOWER_TOP
for i, o in enumerate(outcomes):
    h = outcome_values[i]
    top = outcome_top[i]
    if o.startswith("n"):
        c = "#E286BE"
        ribbon(X4, X5, cur_t, cur_t + h, top, top + h, c, z=5, span=SP4)
        ribbon(X5, X6, top, top + h, top, top + h, c, z=5)
        cur_t += h
    else:
        ribbon(X4, X5, cur_f, cur_f + h, top, top + h, PINK, z=5, span=SP4)
        ribbon(X5, X6, top, top + h, top, top + h, HOT if o == "p_Up" else "#CF66A6", z=5)
        cur_f += h
    axC.text(1360, outcome_label_y[i] + LAB_DY, o, ha="center", va="center", fontsize=17.4, color="#1A1A1A", zorder=8)

axC.text(1037, 1527, "Trefoil", ha="left", va="center", fontsize=27, color="#111111", zorder=8)
axC.text(1037, 1690, "Flower", ha="left", va="center", fontsize=27, color="#111111", zorder=8)
axC.text(466, 1683, "+", ha="center", va="center", fontsize=38, fontweight="bold", color="black", zorder=8)
axC.text(465, 1520, "−", ha="center", va="center", fontsize=34, fontweight="bold", color="black", zorder=8)

# ========== D ==========
axD = px_axes(1691, 1190, 2846, 2205)
axD.set_xlim(0, 1)
axD.set_ylim(1, 0)
axD.axis("off")
fig.text(2268 / W, 1 - 1167 / H, "KEGG Enrichment", fontsize=21.3, ha="center", va="center", color="#222222")


def size_of(node):
    if isinstance(node, int):
        return kegg_sizes[node]
    return sum(size_of(c) for c in node[1])


rects = {}


def split(node, x0, y0, x1, y1):
    if isinstance(node, int):
        rects[node] = (x0, y0, x1, y1)
        return
    axis, kids = node
    total = size_of(node)
    pos = x0 if axis == "x" else y0
    for k in kids:
        frac = size_of(k) / total
        if axis == "x":
            nxt = pos + frac * (x1 - x0)
            split(k, pos, y0, nxt, y1)
        else:
            nxt = pos + frac * (y1 - y0)
            split(k, x0, pos, x1, nxt)
        pos = nxt


split(kegg_tree, 0, 0, 1, 1)
for i in range(len(kegg_sizes)):
    x0, y0, x1, y1 = rects[i]
    thin = i in (0, 1, 2, 3, 14, 15)
    axD.add_patch(Rectangle((x0, y0), x1 - x0, y1 - y0, facecolor=kegg_colors[i], edgecolor="black",
                            lw=1.0 if thin else 2.6, clip_on=False, zorder=1))
axD.add_patch(Rectangle((0, 0), rects[2][2], rects[1][3], fill=False, edgecolor="black", lw=2.6, clip_on=False, zorder=2))
axD.add_patch(Rectangle((rects[14][0], rects[14][1]), rects[15][2] - rects[14][0], rects[14][3] - rects[14][1], fill=False,
                        edgecolor="black", lw=2.6, clip_on=False, zorder=2))
axD.add_patch(Rectangle((0, 0), 1, 1, fill=False, edgecolor="#111111", lw=3.2, clip_on=False, zorder=3))
title_bg = {0: "#F2DF5E", 14: "#6DBFA5", 17: "#8C9FCA", 21: "#E5C493"}
for i in range(len(kegg_sizes)):
    x0, y0, x1, y1 = rects[i]
    if kegg_groups[i]:
        axD.text((x0 + x1) / 2, (y0 + y1) / 2, kegg_groups[i], ha="center", va="center", fontsize=kegg_group_sizes[i],
                 color="#2A2A2A", zorder=4)
    if kegg_terms[i]:
        kw = {}
        if i in title_bg:
            kw["bbox"] = dict(facecolor=title_bg[i], edgecolor="none", pad=1.0, alpha=0.9)
        fs = kegg_title_sizes[i]
        axD.annotate(kegg_terms[i], xy=(x0, y0), xytext=(3.5 + fs * 0.16, -3.5 - fs * 0.08), textcoords="offset points",
                     ha="left", va="top", fontsize=fs, fontweight="bold", color="#111111",
                     linespacing=kegg_title_spacing[i], zorder=5, annotation_clip=False, **kw)

fig.savefig("out.png", dpi=100, facecolor="white")
